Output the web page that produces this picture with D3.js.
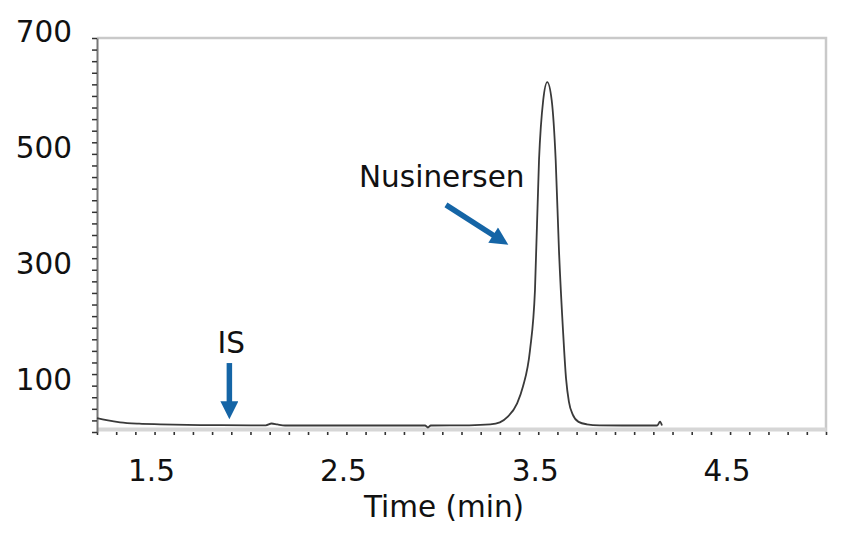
<!DOCTYPE html>
<html>
  <head>
    <meta charset="utf-8">
    <script src="https://d3js.org/d3.v7.min.js"></script>
    <style type="text/css">
      body { margin: 0; background: #ffffff; }
      svg { display: block; }
      text { font-family: "DejaVu Sans", Verdana, sans-serif; fill: #111; }
    </style>
  </head>
<body>
  <script type="text/javascript">
    // chromatogram trace (time in min, intensity)
    var times = [1.20, 1.25, 1.32, 1.42, 1.53, 1.74, 2.00, 2.08, 2.11, 2.14, 2.18, 2.52, 2.91, 2.925, 2.94,
                 3.14, 3.25, 3.30, 3.34, 3.39, 3.42, 3.457, 3.483, 3.504, 3.526, 3.547, 3.570, 3.591,
                 3.608, 3.629, 3.645, 3.66, 3.68, 3.71, 3.753, 3.82, 4.00, 4.12, 4.135, 4.145];
    var intensities = [44, 40.5, 36.7, 34.3, 33.3, 32, 31.6, 31.6, 34.7, 33, 31.2, 31.2, 31.2, 27.8, 31.2,
                       31.5, 33, 36.5, 46, 69.5, 98, 161, 265, 489, 593, 624, 593, 489,
                       334, 196, 112, 72, 50, 37.5, 33.3, 31.6, 31.2, 31.2, 38, 31.2];

    var xLabels = [1.5, 2.5, 3.5, 4.5];
    var yLabels = [100, 300, 500, 700];

    // annotations: label, text position, arrow start, arrow tip (data units)
    var peakNames = ["IS", "Nusinersen"];
    var nameAt = [[1.90, 156], [2.566, 443]];
    var arrowFrom = [[1.89, 139], [3.019, 412]];
    var arrowTo = [[1.89, 42], [3.344, 343]];

    var width = 845, height = 534;
    var mLeft = 97, mRight = 826, mTop = 38, mBottom = 432;

    var svg = d3.select("body")
      .append("svg")
      .attr("width", width)
      .attr("height", height);

    var x = d3.scaleLinear().domain([1.2, 5.0]).range([mLeft, mRight]);
    var y = d3.scaleLinear().domain([20, 700]).range([mBottom, mTop]);

    // light frame on top and right
    svg.append("path")
      .attr("d", "M" + mLeft + "," + mTop + "H" + mRight + "V" + mBottom)
      .attr("fill", "none")
      .attr("stroke", "#c9c9c9")
      .attr("stroke-width", 2.5);

    // bottom axis: pale band with small ticks under it
    var xAxis = d3.axisBottom(x)
      .tickValues(d3.range(12, 51).map(function(d) { return d / 10; }))
      .tickSize(6)
      .tickSizeOuter(0)
      .tickFormat("");
    var gx = svg.append("g")
      .attr("transform", "translate(0," + (mBottom - 3) + ")")
      .call(xAxis);
    gx.select(".domain").attr("stroke", "#d6d6d6").attr("stroke-width", 4);
    gx.selectAll(".tick line")
      .attr("stroke", "#333")
      .attr("stroke-width", 1.6)
      .attr("y1", 3);

    // left axis with minor ticks every 20
    var yAxis = d3.axisLeft(y)
      .tickValues(d3.range(20, 701, 20))
      .tickSize(5)
      .tickSizeOuter(0)
      .tickFormat("");
    var gy = svg.append("g")
      .attr("transform", "translate(" + mLeft + ",0)")
      .call(yAxis);
    gy.select(".domain").attr("stroke", "#777").attr("stroke-width", 2);
    gy.selectAll(".tick line").attr("stroke", "#333").attr("stroke-width", 1.5);

    // tick labels
    svg.selectAll(".xlab")
      .data(xLabels)
      .enter()
      .append("text")
      .attr("class", "xlab")
      .attr("x", function(d) { return x(d) - 3; })
      .attr("y", 481)
      .attr("text-anchor", "middle")
      .style("font-size", "29.5px")
      .text(function(d) { return d3.format(".1f")(d); });

    svg.selectAll(".ylab")
      .data(yLabels)
      .enter()
      .append("text")
      .attr("class", "ylab")
      .attr("x", 72)
      .attr("y", function(d) { return y(d) + 4; })
      .attr("text-anchor", "end")
      .style("font-size", "29.5px")
      .text(function(d) { return d; });

    svg.append("text")
      .attr("x", 444)
      .attr("y", 517)
      .attr("text-anchor", "middle")
      .style("font-size", "29.5px")
      .text("Time (min)");

    // the trace
    var pts = times.map(function(t, i) { return [t, intensities[i]]; });
    var line = d3.line()
      .x(function(d) { return x(d[0]); })
      .y(function(d) { return y(d[1]); })
      .curve(d3.curveMonotoneX);
    svg.append("path")
      .datum(pts)
      .attr("d", line)
      .attr("fill", "none")
      .attr("stroke", "#3a3a3a")
      .attr("stroke-width", 1.8)
      .attr("stroke-linejoin", "round");

    // arrows and peak names
    var defs = svg.append("defs");
    defs.append("marker")
      .attr("id", "head")
      .attr("viewBox", "0 0 10 10")
      .attr("refX", 10)
      .attr("refY", 5)
      .attr("markerUnits", "userSpaceOnUse")
      .attr("markerWidth", 19)
      .attr("markerHeight", 18)
      .attr("orient", "auto")
      .append("path")
      .attr("d", "M0,0L10,5L0,10Z")
      .attr("fill", "#1565a6");

    peakNames.forEach(function(name, i) {
      var a = arrowFrom[i], b = arrowTo[i];
      // shaft ends under the head so the head carries the tip
      var dx = x(b[0]) - x(a[0]), dy = y(b[1]) - y(a[1]);
      var len = Math.sqrt(dx * dx + dy * dy);
      svg.append("line")
        .attr("x1", x(a[0]))
        .attr("y1", y(a[1]))
        .attr("x2", x(a[0]) + dx * (len - 10) / len)
        .attr("y2", y(a[1]) + dy * (len - 10) / len)
        .attr("stroke", "#1565a6")
        .attr("stroke-width", 5.5);
      svg.append("line")
        .attr("x1", x(a[0]) + dx * (len - 11) / len)
        .attr("y1", y(a[1]) + dy * (len - 11) / len)
        .attr("x2", x(b[0]))
        .attr("y2", y(b[1]))
        .attr("stroke", "none")
        .attr("marker-end", "url(#head)");

      svg.append("text")
        .attr("x", x(nameAt[i][0]))
        .attr("y", y(nameAt[i][1]))
        .attr("text-anchor", i == 0 ? "middle" : "start")
        .style("font-size", "29.5px")
        .text(name);
    });
  </script>
</body>
</html>
